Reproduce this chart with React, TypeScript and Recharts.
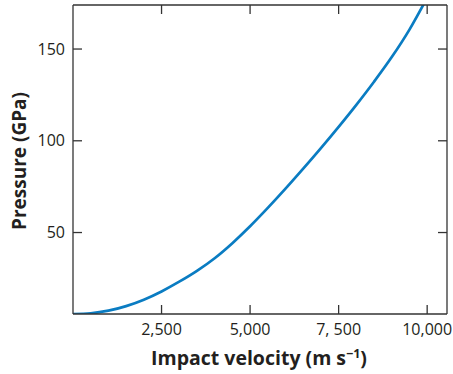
import React from 'react';
import { LineChart, Line, XAxis, YAxis } from 'recharts';

const velocity = [0, 500, 1000, 1500, 2000, 2500, 3000, 3500, 4000, 4500, 5000, 5500, 6000, 6500, 7000, 7500, 8000, 8500, 9000, 9500, 10000];
const pressure = [5.6, 6.0, 7.4, 9.9, 13.4, 17.9, 23.2, 29.1, 36.0, 44.2, 53.4, 63.4, 73.9, 84.8, 96.0, 107.6, 119.6, 132.2, 145.6, 160.6, 178];
const xTicks = [2500, 5000, 7500, 10000];
const xTickLabels = ['2,500', '5,000', '7, 500', '10,000'];
const yTicks = [50, 100, 150];
const xDomain = [0, 10560];
const yDomain = [5.6, 174];

const data = velocity.map((v, i) => ({ v, p: pressure[i] }));

const FONT = '"Open Sans", "Noto Sans", sans-serif';
const TEXT = '#231f20';
const AXIS = '#333333';
const TICK_LEN = 9;

const xLabel = (val: number) => {
  const i = xTicks.indexOf(val);
  return i >= 0 ? xTickLabels[i] : String(val);
};

const BottomTick = (props: any) => {
  const { x, y, payload } = props;
  return (
    <g>
      <line x1={x} x2={x} y1={y} y2={y - TICK_LEN} stroke={AXIS} strokeWidth={1.3} />
      <text x={x} y={y + 21} textAnchor="middle" fontFamily={FONT} fontSize={16} fill={TEXT}>
        {xLabel(payload.value)}
      </text>
    </g>
  );
};

const TopTick = (props: any) => {
  const { x, y } = props;
  return <line x1={x} x2={x} y1={y} y2={y + TICK_LEN} stroke={AXIS} strokeWidth={1.3} />;
};

const LeftTick = (props: any) => {
  const { x, y, payload } = props;
  return (
    <g>
      <line x1={x} x2={x + TICK_LEN} y1={y} y2={y} stroke={AXIS} strokeWidth={1.3} />
      <text x={x - 8} y={y + 5.7} textAnchor="end" fontFamily={FONT} fontSize={16} fill={TEXT}>
        {payload.value}
      </text>
    </g>
  );
};

const RightTick = (props: any) => {
  const { x, y } = props;
  return <line x1={x} x2={x - TICK_LEN} y1={y} y2={y} stroke={AXIS} strokeWidth={1.3} />;
};

const XTitle = () => (
  <text x={259} y={365} textAnchor="middle" fontFamily={FONT} fontWeight={700} fontSize={19.5} fill={TEXT}>
    Impact velocity (m s
    <tspan dy={-7.5} fontSize={12.5}>−1</tspan>
    <tspan dy={7.5}>)</tspan>
  </text>
);

const YTitle = () => (
  <text
    x={26}
    y={161}
    textAnchor="middle"
    transform="rotate(-90, 26, 161)"
    fontFamily={FONT}
    fontWeight={700}
    fontSize={19}
    fill={TEXT}
  >
    Pressure (GPa)
  </text>
);

export default function App() {
  return (
    <div style={{ position: 'absolute', left: 0, top: 0 }}>
      <LineChart width={453} height={374} data={data} margin={{ top: 0, right: 0, bottom: 0, left: 0 }}>
        <XAxis
          dataKey="v"
          type="number"
          domain={xDomain}
          ticks={xTicks}
          allowDataOverflow
          height={60}
          tickSize={0}
          tickMargin={0}
          tickLine={false}
          stroke={AXIS}
          strokeWidth={1.3}
          tick={<BottomTick />}
          label={{ content: () => <XTitle /> }}
        />
        <XAxis
          xAxisId="top"
          orientation="top"
          dataKey="v"
          type="number"
          domain={xDomain}
          ticks={xTicks}
          allowDataOverflow
          height={5}
          tickSize={0}
          tickMargin={0}
          tickLine={false}
          tick={<TopTick />}
          stroke={AXIS}
          strokeWidth={1.3}
        />
        <YAxis
          type="number"
          domain={yDomain}
          ticks={yTicks}
          allowDataOverflow
          width={73}
          tickSize={0}
          tickMargin={0}
          tickLine={false}
          stroke={AXIS}
          strokeWidth={1.3}
          tick={<LeftTick />}
          label={{ content: () => <YTitle /> }}
        />
        <YAxis
          yAxisId="right"
          orientation="right"
          type="number"
          domain={yDomain}
          ticks={yTicks}
          allowDataOverflow
          width={6}
          tickSize={0}
          tickMargin={0}
          tickLine={false}
          tick={<RightTick />}
          stroke={AXIS}
          strokeWidth={1.3}
        />
        <Line
          type="monotone"
          dataKey="p"
          stroke="#0a7cc2"
          strokeWidth={2.7}
          dot={false}
          isAnimationActive={false}
        />
      </LineChart>
    </div>
  );
}
